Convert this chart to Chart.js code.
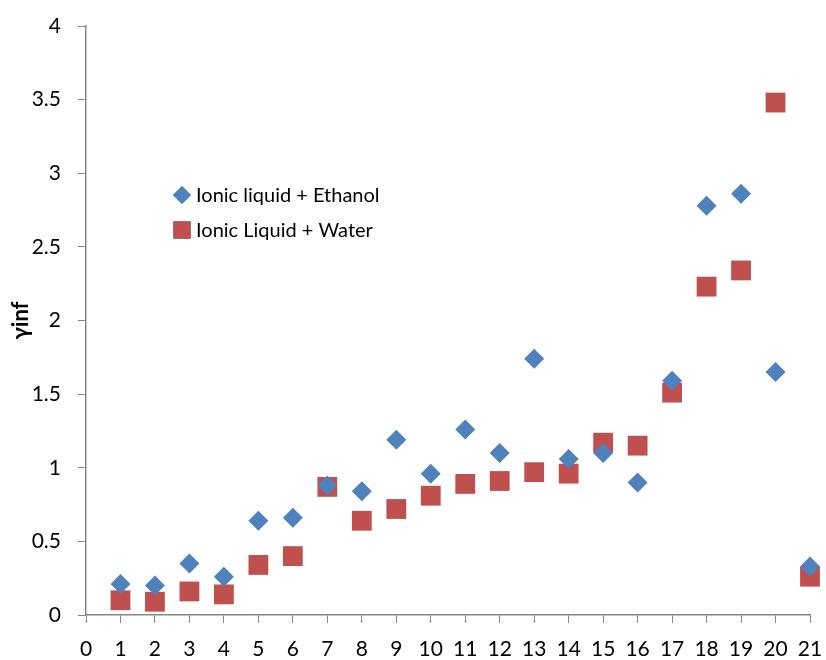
<!DOCTYPE html>
<html>
<head>
<meta charset="utf-8">
<script src="https://cdn.jsdelivr.net/npm/chart.js@4"></script>
<style>
  html, body { margin: 0; padding: 0; background: #fff; }
  #wrap { width: 826px; height: 660px; }
</style>
</head>
<body>
<div id="wrap"><canvas id="scatterChart" width="826" height="660"></canvas></div>
<script>
// activity coefficient at infinite dilution, per ionic liquid number
const ilNumbers = [1, 2, 3, 4, 5, 6, 7, 8, 9, 10, 11, 12, 13, 14, 15, 16, 17, 18, 19, 20, 21];
const ethanolValues = [0.21, 0.20, 0.35, 0.26, 0.64, 0.66, 0.88, 0.84, 1.19, 0.96, 1.26, 1.10, 1.74, 1.06, 1.10, 0.90, 1.59, 2.78, 2.86, 1.65, 0.33];
const waterValues = [0.10, 0.09, 0.16, 0.14, 0.34, 0.40, 0.87, 0.64, 0.72, 0.81, 0.89, 0.91, 0.97, 0.96, 1.17, 1.15, 1.51, 2.23, 2.34, 3.48, 0.26];
const seriesNames = ['Ionic liquid + Ethanol', 'Ionic Liquid + Water'];

const FONT = 'Lato, "Open Sans", sans-serif';
const axisGray = '#868686';

const toPoints = vals => ilNumbers.map((x, i) => ({ x: x, y: vals[i] }));

// legend drawn inside the plot area, Excel style
const innerLegend = {
  id: 'innerLegend',
  afterDraw(chart) {
    const ctx = chart.ctx;
    const x0 = 182, y0 = 195, gap = 35;
    ctx.save();
    ctx.font = '20px ' + FONT;
    ctx.textBaseline = 'middle';
    chart.data.datasets.forEach((ds, i) => {
      const y = y0 + i * gap;
      Chart.helpers.drawPoint(ctx, {
        pointStyle: ds.pointStyle,
        radius: i === 0 ? 9 : 12,
        borderWidth: 0
      }, x0, y);
      ctx.fillStyle = ds.backgroundColor;
      ctx.fill();
      ctx.fillStyle = '#000';
      ctx.fillText(ds.label, x0 + 14, y + 1);
    });
    ctx.restore();
  }
};

const ctx = document.getElementById('scatterChart').getContext('2d');
new Chart(ctx, {
  type: 'scatter',
  data: {
    datasets: [
      {
        label: seriesNames[0],
        data: toPoints(ethanolValues),
        pointStyle: 'rectRot',
        pointRadius: 10,
        pointHoverRadius: 10,
        backgroundColor: '#4F81BD',
        borderColor: '#4F81BD',
        borderWidth: 0,
        clip: false
      },
      {
        label: seriesNames[1],
        data: toPoints(waterValues),
        pointStyle: 'rect',
        pointRadius: 14,
        pointHoverRadius: 14,
        backgroundColor: '#C0504D',
        borderColor: '#C0504D',
        borderWidth: 0,
        clip: false
      }
    ]
  },
  options: {
    responsive: false,
    animation: false,
    layout: { padding: { left: 4, right: 16, top: 26, bottom: 0 } },
    plugins: {
      legend: { display: false },
      tooltip: { enabled: false }
    },
    scales: {
      x: {
        type: 'linear',
        min: 0,
        max: 21,
        ticks: { stepSize: 1, color: '#000', font: { family: FONT, size: 21 }, padding: 14, maxRotation: 0 },
        grid: { drawOnChartArea: false, color: axisGray, tickLength: 8, tickColor: axisGray },
        border: { color: axisGray, width: 1.5 },
        afterFit: s => { s.height = 45; s.paddingLeft = 0; s.paddingRight = 0; }
      },
      y: {
        min: 0,
        max: 4,
        ticks: {
          stepSize: 0.5, color: '#000', font: { family: FONT, size: 21 }, padding: 17,
          callback: v => String(v)
        },
        grid: { drawOnChartArea: false, color: axisGray, tickLength: 8, tickColor: axisGray },
        border: { color: axisGray, width: 1.5 },
        title: { display: true, text: 'γinf', color: '#000', font: { family: FONT, size: 22, weight: 'bold' }, padding: 4 },
        afterFit: s => { s.width = 82; s.paddingTop = 0; s.paddingBottom = 0; }
      }
    }
  },
  plugins: [innerLegend]
});
</script>
</body>
</html>
